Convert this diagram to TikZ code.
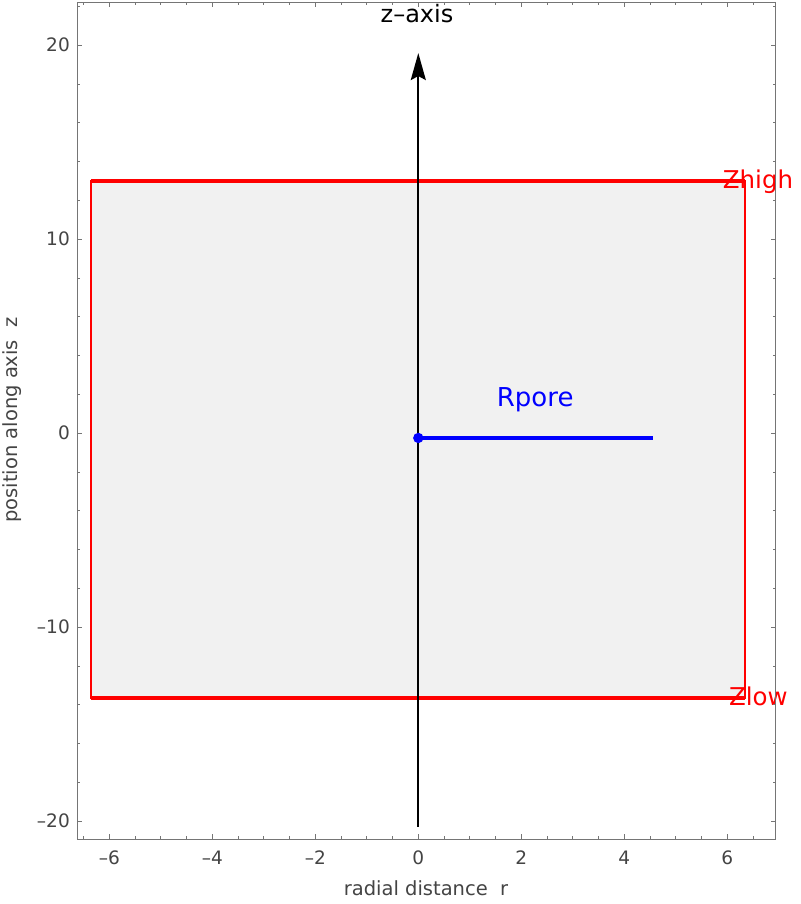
\documentclass[tikz,border=0pt]{standalone}
\usepackage{fontspec}
\setmainfont{DejaVu Sans}
\usetikzlibrary{arrows.meta}
\definecolor{framegray}{HTML}{757575}
\definecolor{labelgray}{HTML}{444444}
\definecolor{boxfill}{HTML}{F1F1F1}
\tikzset{
  frameline/.style={draw=framegray, line width=0.8pt},
  tickline/.style={draw=framegray, line width=0.7pt},
  ticklabel/.style={text=labelgray, font=\fontsize{18.5}{20}\selectfont, inner sep=0pt},
  axislabel/.style={text=labelgray, font=\fontsize{19.5}{22}\selectfont, inner sep=0pt},
  redlabel/.style={text=red, font=\fontsize{24.5}{26}\selectfont, inner sep=0pt},
  bluelabel/.style={text=blue, font=\fontsize{26}{28}\selectfont, inner sep=0pt},
  blacklabel/.style={text=black, font=\fontsize{24}{26}\selectfont, inner sep=0pt},
  boxedge/.style={draw=red, line width=2pt, fill=boxfill},
  zline/.style={draw=red, line width=3.6pt},
  axisarrow/.style={draw=black, line width=2pt, -{Stealth[length=27pt,width=15pt,inset=4pt]}},
  poreline/.style={draw=blue, line width=3.5pt},
}
\begin{document}
\begin{tikzpicture}[x=1pt,y=1pt]
\useasboundingbox[fill=white] (0,0) rectangle (800,-904);
\begin{scope}[shift={(418.3pt,-433.1pt)}, x=51.5pt, y=19.4pt]
  % region box
  \coordinate (bl) at (-6.35,-13.64);
  \coordinate (tr) at (6.35,13);
  \coordinate (tl) at (-6.35,13);
  \coordinate (br) at (6.35,-13.64);
  \path[boxedge] (bl) rectangle (tr);
  \path[zline] (tl) -- (tr);
  \path[zline] (bl) -- (br);
  % z axis arrow
  \coordinate (zbot) at (0,-20.3);
  \coordinate (ztop) at (0,19.59);
  \path[axisarrow] (zbot) -- (ztop);
  % pore radius
  \coordinate (pore0) at (0,-0.25);
  \coordinate (pore1) at (4.56,-0.25);
  \path[poreline] (pore0) -- (pore1);
  \fill[blue] (pore0) circle[radius=5.2pt];
  % labels
  \node[bluelabel, anchor=base] (rpore) at (2.27,1.36) {Rpore};
  \node[redlabel, anchor=base west] (zhigh) at ([yshift=-8pt]5.91,13) {Zhigh};
  \node[redlabel, anchor=base west] (zlow) at ([yshift=-8pt]6.03,-13.64) {Zlow};
  % frame
  \coordinate (fbl) at (-6.614,-20.92);
  \coordinate (ftr) at (6.932,22.19);
  \path[frameline] (fbl) rectangle (ftr);
  % bottom / top ticks
  \foreach \i in {-13,...,13} {
    \path[tickline] (\i*0.5,-20.92) -- ++(0,2.6pt);
    \path[tickline] (\i*0.5,22.19) -- ++(0,-2.6pt);
  }
  \foreach \x in {-6,-4,-2,0,2,4,6} {
    \path[tickline] (\x,-20.92) -- ++(0,4.5pt);
    \path[tickline] (\x,22.19) -- ++(0,-4.5pt);
  }
  \foreach \x/\t in {-6/–6,-4/–4,-2/–2,0/0,2/2,4/4,6/6} {
    \node[ticklabel, anchor=base] (xl\x) at ([yshift=-26pt]\x,-20.92) {\t};
  }
  % left / right ticks
  \foreach \z in {-20,-18,...,22} {
    \path[tickline] (-6.614,\z) -- ++(2.6pt,0);
    \path[tickline] (6.932,\z) -- ++(-2.6pt,0);
  }
  \foreach \z in {-20,-10,0,10,20} {
    \path[tickline] (-6.614,\z) -- ++(4.5pt,0);
    \path[tickline] (6.932,\z) -- ++(-4.5pt,0);
  }
  \foreach \z/\t in {-20/–20,-10/–10,0/0,10/10,20/20} {
    \node[ticklabel, anchor=east] (yl\z) at ([xshift=-7.7pt]-6.614,\z) {\t};
  }
\end{scope}
\node[blacklabel, anchor=base] (zaxis) at (417,-23) {z–axis};
\node[axislabel, anchor=base] (xlab) at (426,-895) {radial distance\ \ r};
\node[axislabel, anchor=base, rotate=90] (ylab) at (17.3,-420) {position along axis\ \ z};
\end{tikzpicture}
\end{document}
